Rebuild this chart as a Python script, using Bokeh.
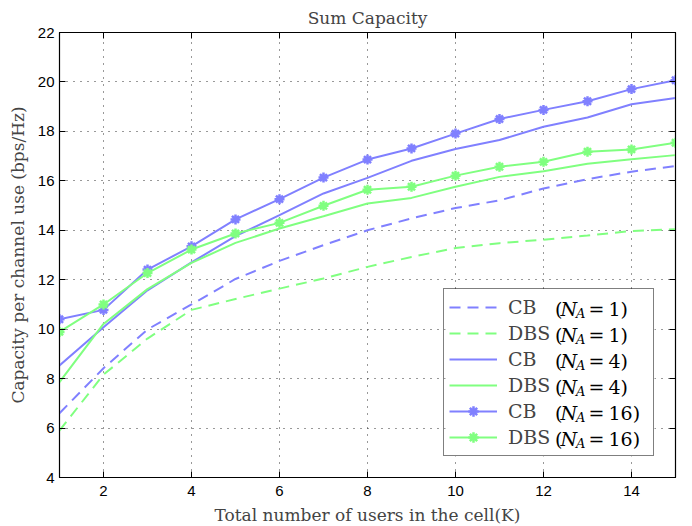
from bokeh.plotting import figure
from bokeh.models import (Range1d, FixedTicker, LinearAxis, Legend, LegendItem, ColumnDataSource,
                          BoxAnnotation)
from bokeh.core.properties import value
from bokeh.embed import file_html
from bokeh.resources import INLINE

# ---------------- data ----------------
users = [1, 2, 3, 4, 5, 6, 7, 8, 9, 10, 11, 12, 13, 14, 15]
cb_na1 = [6.60, 8.42, 9.99, 11.00, 12.03, 12.76, 13.40, 14.00, 14.48, 14.90, 15.21, 15.69, 16.07, 16.37, 16.60]
dbs_na1 = [5.90, 8.16, 9.62, 10.78, 11.22, 11.64, 12.05, 12.52, 12.92, 13.28, 13.48, 13.62, 13.79, 13.97, 14.04]
cb_na4 = [8.53, 10.08, 11.57, 12.70, 13.76, 14.61, 15.49, 16.12, 16.81, 17.29, 17.65, 18.19, 18.56, 19.10, 19.35]
dbs_na4 = [7.86, 10.21, 11.62, 12.68, 13.49, 14.07, 14.57, 15.08, 15.31, 15.76, 16.16, 16.39, 16.69, 16.87, 17.04]
cb_na16 = [10.40, 10.78, 12.41, 13.35, 14.44, 15.26, 16.13, 16.86, 17.31, 17.91, 18.50, 18.87, 19.22, 19.71, 20.07]
dbs_na16 = [9.89, 11.00, 12.27, 13.22, 13.87, 14.30, 14.99, 15.64, 15.76, 16.21, 16.57, 16.77, 17.18, 17.27, 17.54]

x_ticks = [2, 4, 6, 8, 10, 12, 14]
y_ticks = [4, 6, 8, 10, 12, 14, 16, 18, 20, 22]
legend_names = ["CB", "DBS", "CB", "DBS", "CB", "DBS"]
legend_na = ["1", "1", "4", "4", "16", "16"]

# ---------------- style ----------------
BLUE = "#8080ff"
GREEN = "#80ff80"
SERIF = "DejaVu Serif"
SANS = "Liberation Sans"
FW, FH = 616, 445
XMIN, XMAX, YMIN, YMAX = 1, 15, 4, 22

p = figure(frame_width=FW, frame_height=FH, output_backend="svg", toolbar_location=None,
           x_range=Range1d(XMIN, XMAX), y_range=Range1d(YMIN, YMAX),
           min_border_left=59, min_border_right=6, min_border_top=25, min_border_bottom=40,
           title="Sum Capacity")
p.title.text_font = SERIF
p.title.text_font_size = "17px"
p.title.text_font_style = "normal"
p.title.align = "center"
p.title.offset = 0
p.outline_line_color = "black"
p.outline_line_width = 1.2

for ax in (p.xaxis[0], p.yaxis[0]):
    ax.major_tick_in = 6
    ax.major_tick_out = 0
    ax.minor_tick_line_color = None
    ax.major_label_text_font = SANS
    ax.major_label_text_font_size = "15px"
    ax.major_label_text_color = "black"
    ax.axis_line_color = "black"
    ax.major_tick_line_color = "black"
    ax.axis_label_text_font = SERIF
    ax.axis_label_text_font_size = "17px"
    ax.axis_label_text_font_style = "normal"
p.xaxis.ticker = FixedTicker(ticks=x_ticks)
p.yaxis.ticker = FixedTicker(ticks=y_ticks)
p.xaxis.axis_label = "Total number of users in the cell(K)"
p.yaxis.axis_label = "Capacity per channel use (bps/Hz)"
p.xaxis.major_label_standoff = 8
p.yaxis.major_label_standoff = 5
p.xaxis.axis_label_standoff = 6
p.yaxis.axis_label_standoff = 7

for loc, tk in (("above", x_ticks), ("right", y_ticks)):
    ax = LinearAxis(ticker=FixedTicker(ticks=tk), major_tick_in=6, major_tick_out=0,
                    minor_tick_line_color=None,
                    major_label_overrides={t: "" for t in tk},
                    major_label_standoff=0, axis_line_color="black")
    p.add_layout(ax, loc)

p.xgrid.ticker = FixedTicker(ticks=x_ticks)
p.ygrid.ticker = FixedTicker(ticks=y_ticks)
for g in (p.xgrid[0], p.ygrid[0]):
    g.grid_line_color = "#333333"
    g.grid_line_dash = "1 6"
    g.grid_line_width = 1

# legend geometry (pixels inside the frame)
PAD, GW, STAND, LABW, ROWH, MARG = 5, 48, 11, 140, 26, 21
box_w = 2 * PAD + GW + STAND + LABW
box_h = 2 * PAD + 6 * ROWH
box_left = FW - MARG - box_w
box_top = FH - MARG - box_h


def dx(px):
    return XMIN + px / FW * (XMAX - XMIN)


def dy(py):
    return YMAX - py / FH * (YMAX - YMIN)


# opaque white legend background, drawn above the grid but below the text
p.add_layout(BoxAnnotation(left=dx(box_left), right=dx(box_left + box_w),
                           top=dy(box_top), bottom=dy(box_top + box_h),
                           fill_color="white", fill_alpha=1, line_color=None,
                           level="underlay"))

LW = 2
dash = "11 7"
r1 = p.line(users, cb_na1, line_color=BLUE, line_width=LW, line_dash=dash)
r2 = p.line(users, dbs_na1, line_color=GREEN, line_width=LW, line_dash=dash)
r3 = p.line(users, cb_na4, line_color=BLUE, line_width=LW)
r4 = p.line(users, dbs_na4, line_color=GREEN, line_width=LW)
r5 = p.line(users, cb_na16, line_color=BLUE, line_width=LW)
r5m = p.scatter(users, cb_na16, marker="asterisk", size=10, line_color=BLUE, line_width=2.5)
r6 = p.line(users, dbs_na16, line_color=GREEN, line_width=LW)
r6m = p.scatter(users, dbs_na16, marker="asterisk", size=10, line_color=GREEN, line_width=2.5)

renders = [[r1], [r2], [r3], [r4], [r5, r5m], [r6, r6m]]
items = [LegendItem(label=n, renderers=rs) for n, rs in zip(legend_names, renders)]

leg = Legend(items=items, location="bottom_right", margin=MARG, padding=PAD,
             spacing=0, glyph_width=GW, glyph_height=ROWH, label_height=ROWH,
             label_width=LABW, label_standoff=STAND,
             label_text_font=SERIF, label_text_font_size="19px",
             border_line_color="black", border_line_width=1,
             background_fill_alpha=0)
p.add_layout(leg)

# parenthetical parts of the legend labels "(N_A = k)"
big = dict(x=[], y=[], t=[])
ital = dict(x=[], y=[], t=[])
sub = dict(x=[], y=[], t=[])
for i, k in enumerate(legend_na):
    yc = box_top + PAD + ROWH / 2 + i * ROWH
    big["x"] += [dx(box_left + 109.5), dx(box_left + 143), dx(box_left + 163)]
    big["y"] += [dy(yc), dy(yc), dy(yc)]
    big["t"] += ["(", "=", k + ")"]
    ital["x"].append(dx(box_left + 115))
    ital["y"].append(dy(yc))
    ital["t"].append("N")
    sub["x"].append(dx(box_left + 130.5))
    sub["y"].append(dy(yc + 5))
    sub["t"].append("A")

p.text(x="x", y="y", text="t", source=ColumnDataSource(big), text_font=value(SERIF),
       text_font_size=value("19px"), text_baseline="middle", text_color="black")
p.text(x="x", y="y", text="t", source=ColumnDataSource(ital), text_font=value(SERIF),
       text_font_style="italic", text_font_size=value("19px"), text_baseline="middle",
       text_color="black")
p.text(x="x", y="y", text="t", source=ColumnDataSource(sub), text_font=value(SERIF),
       text_font_style="italic", text_font_size=value("13px"), text_baseline="middle",
       text_color="black")

open("out.html", "w").write(file_html(p, INLINE))
